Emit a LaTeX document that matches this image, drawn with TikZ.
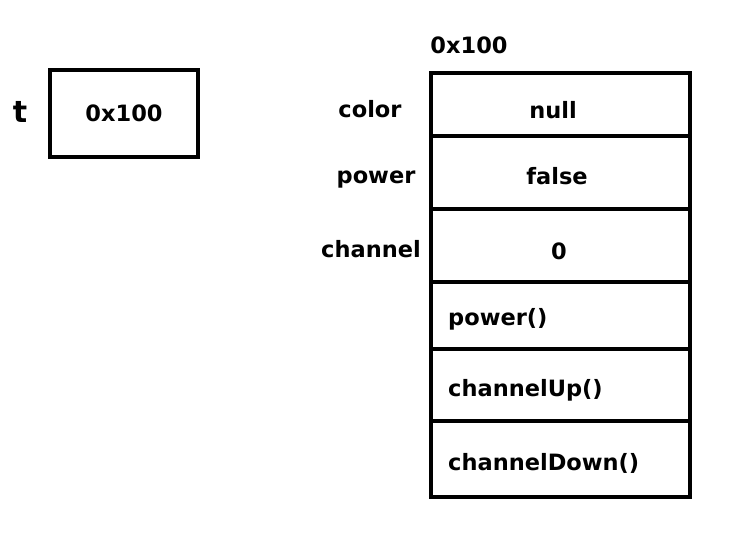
\documentclass[tikz,border=0pt]{standalone}
\usepackage{fontspec}
\setmainfont{DejaVu Sans}
\usetikzlibrary{positioning}
\tikzset{
  txt/.style={font=\bfseries\fontsize{22.5}{27}\selectfont,inner sep=0pt},
  cell/.style={draw,line width=4.5pt,minimum width=259pt,outer sep=0pt,inner sep=0pt},
}
\begin{document}
\begin{tikzpicture}[x=1pt,y=-1pt]
\useasboundingbox (0,0) rectangle (736,548);
% the reference t
\node[txt,draw,line width=4.5pt,minimum width=148pt,minimum height=87pt,outer sep=0pt] (tbox) at (124,113.5) {0x100};
\node[txt,anchor=base,font=\bfseries\fontsize{30}{36}\selectfont] (tname) at (20,123) {t};
% the object at 0x100
\node[txt,anchor=base] (addr) at (469,54) {0x100};
\node[cell,minimum height=63pt,anchor=north] (color) at (560.5,73) {};
\node[cell,minimum height=73pt,below=0pt of color] (power) {};
\node[cell,minimum height=73pt,below=0pt of power] (channel) {};
\node[cell,minimum height=67pt,below=0pt of channel] (mpower) {};
\node[cell,minimum height=72pt,below=0pt of mpower] (mup) {};
\node[cell,minimum height=76pt,below=0pt of mup] (mdown) {};
% field names
\node[txt,anchor=base] (lcolor) at (370,118) {color};
\node[txt,anchor=base] (lpower) at (376,184) {power};
\node[txt,anchor=base] (lchannel) at (371,257) {channel};
% field values
\node[txt,anchor=base] (vcolor) at (553,119) {null};
\node[txt,anchor=base] (vpower) at (557,185) {false};
\node[txt,anchor=base] (vchannel) at (559,259) {0};
% methods
\node[txt,anchor=base west] (tpower) at (448,325) {power()};
\node[txt,anchor=base west] (tup) at (448,396) {channelUp()};
\node[txt,anchor=base west] (tdown) at (448,470) {channelDown()};
\end{tikzpicture}
\end{document}
